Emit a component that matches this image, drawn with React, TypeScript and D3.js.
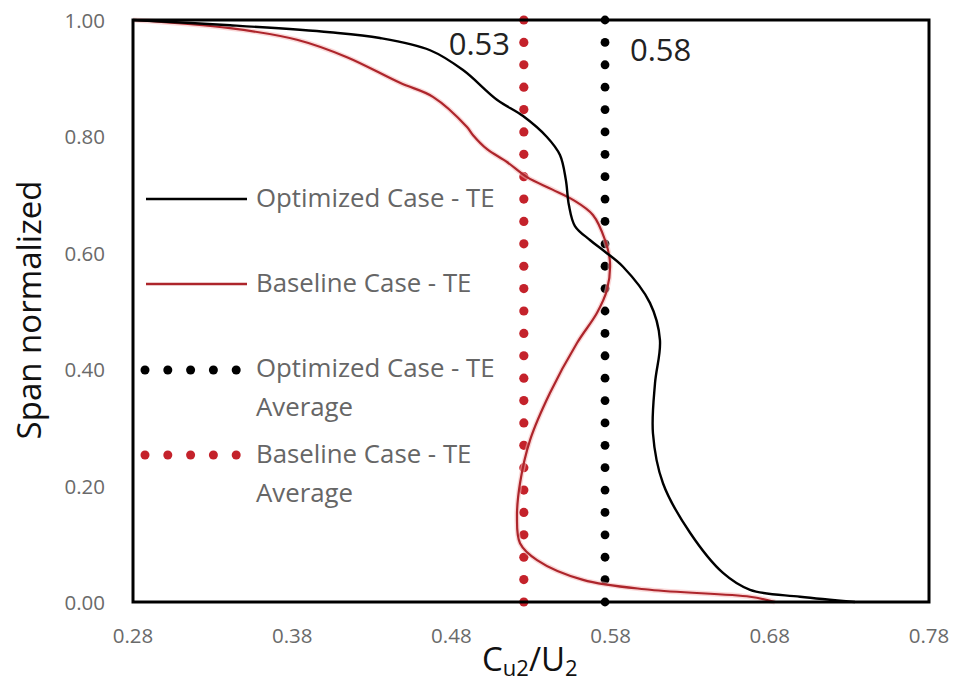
import React from "react";
import * as d3 from "d3";

const xTicks = [0.28, 0.38, 0.48, 0.58, 0.68, 0.78];
const yTicks = [0, 0.2, 0.4, 0.6, 0.8, 1.0];

// Optimized Case - TE : Cu2/U2 vs normalized span
const optimizedX = [0.28, 0.341, 0.4037, 0.4351, 0.4666, 0.4873, 0.5086, 0.525, 0.54, 0.5482, 0.5519, 0.5538, 0.5576, 0.567, 0.5759, 0.5878, 0.6047, 0.611, 0.6079, 0.6066, 0.6129, 0.6299, 0.6506, 0.6676, 0.699, 0.7335];
const optimizedY = [1.0, 0.991, 0.979, 0.969, 0.948, 0.914, 0.863, 0.835, 0.799, 0.768, 0.725, 0.682, 0.646, 0.622, 0.603, 0.576, 0.514, 0.45, 0.376, 0.29, 0.204, 0.119, 0.05, 0.021, 0.009, 0.0];

// Baseline Case - TE
const baselineX = [0.28, 0.3409, 0.383, 0.4144, 0.4477, 0.4684, 0.4898, 0.4936, 0.5024, 0.5149, 0.5275, 0.5432, 0.5564, 0.5689, 0.5765, 0.5796, 0.5777, 0.5715, 0.5589, 0.5419, 0.5294, 0.5231, 0.5212, 0.5231, 0.5338, 0.5627, 0.6048, 0.6676, 0.6833];
const baselineY = [1.0, 0.986, 0.966, 0.936, 0.892, 0.868, 0.816, 0.802, 0.778, 0.756, 0.73, 0.709, 0.691, 0.665, 0.622, 0.584, 0.536, 0.497, 0.445, 0.359, 0.278, 0.204, 0.146, 0.101, 0.072, 0.038, 0.021, 0.009, 0.0];

const optimizedAvg = 0.5765;
const baselineAvg = 0.5255;

const legendLabels = [
  ["Optimized Case - TE"],
  ["Baseline Case - TE"],
  ["Optimized Case - TE", "Average"],
  ["Baseline Case - TE", "Average"],
];

const W = 954;
const H = 686;
const left = 133;
const right = 929;
const top = 20;
const bottom = 602;

const BLACK = "#000000";
const RED_LINE = "#ad252b";
const RED_DOT = "#c4222b";

export default function App() {
  const x = d3.scaleLinear().domain([0.28, 0.78]).range([left, right]);
  const y = d3.scaleLinear().domain([0, 1]).range([bottom, top]);
  const line = d3
    .line<[number, number]>()
    .x((d) => x(d[0]))
    .y((d) => y(d[1]))
    .curve(d3.curveCatmullRom.alpha(0.5));

  const opt: [number, number][] = optimizedX.map((v, i) => [v, optimizedY[i]]);
  const base: [number, number][] = baselineX.map((v, i) => [v, baselineY[i]]);

  const dots = d3.range(0, 27).map((i) => i / 26);

  const font = "'Open Sans', sans-serif";
  const legendLineY = [199, 284, 370, 455];
  const legendTextY = [207, 292, 377, 463];
  const legendStyles = [
    { color: BLACK, dotted: false },
    { color: RED_LINE, dotted: false },
    { color: BLACK, dotted: true },
    { color: RED_DOT, dotted: true },
  ];

  return (
    <svg width={W} height={H} style={{ position: "absolute", left: 0, top: 0, background: "#fff" }}>
      <rect x={0} y={0} width={W} height={H} fill="#fff" />
      {/* average dotted lines */}
      {dots.map((d, i) => (
        <circle key={"b" + i} cx={x(baselineAvg)} cy={y(d)} r={4.6} fill={RED_DOT} />
      ))}
      {dots.map((d, i) => (
        <circle key={"o" + i} cx={x(optimizedAvg)} cy={y(d)} r={4.4} fill={BLACK} />
      ))}
      <path d={line(base) || ""} fill="none" stroke="#f5b9b9" strokeWidth={5} opacity={0.55} />
      <path d={line(base) || ""} fill="none" stroke={RED_LINE} strokeWidth={2.2} />
      <path d={line(opt) || ""} fill="none" stroke={BLACK} strokeWidth={2.4} />
      {/* frame */}
      <rect x={left} y={top} width={right - left} height={bottom - top} fill="none" stroke="#000" strokeWidth={3} />
      {/* tick labels */}
      {xTicks.map((t) => (
        <text key={"x" + t} x={x(t)} y={643} textAnchor="middle" fontFamily={font} fontSize={20.5} fill="#6a6a6a">
          {t.toFixed(2)}
        </text>
      ))}
      {yTicks.map((t) => (
        <text key={"y" + t} x={105} y={y(t) + 8} textAnchor="end" fontFamily={font} fontSize={20.5} fill="#6a6a6a">
          {t.toFixed(2)}
        </text>
      ))}
      {/* axis titles */}
      <text x={482} y={671} fontFamily={font} fontSize={33} fill="#111">
        C<tspan fontSize={22} dy={5}>u2</tspan>
        <tspan dy={-5}>/U</tspan>
        <tspan fontSize={22} dy={5}>2</tspan>
      </text>
      <text
        transform={`translate(41,310) rotate(-90)`}
        textAnchor="middle"
        fontFamily={font}
        fontSize={33}
        fill="#111"
      >
        Span normalized
      </text>
      {/* average annotations */}
      <text x={510} y={55} textAnchor="end" fontFamily={font} fontSize={31} fill="#222">
        {baselineAvg.toFixed(2)}
      </text>
      <text x={630} y={61} fontFamily={font} fontSize={31} fill="#222">
        {optimizedAvg.toFixed(2)}
      </text>
      {/* legend */}
      {legendLabels.map((lines, i) => {
        const st = legendStyles[i];
        return (
          <g key={"l" + i}>
            {st.dotted ? (
              d3.range(5).map((k) => (
                <circle key={k} cx={145 + k * 22.8} cy={legendLineY[i]} r={4.5} fill={st.color} />
              ))
            ) : (
              <line x1={146} x2={247} y1={legendLineY[i]} y2={legendLineY[i]} stroke={st.color} strokeWidth={2.6} />
            )}
            {lines.map((s, j) => (
              <text key={j} x={256} y={legendTextY[i] + j * 39} fontFamily={font} fontSize={25.8} fill="#666">
                {s}
              </text>
            ))}
          </g>
        );
      })}
    </svg>
  );
}
